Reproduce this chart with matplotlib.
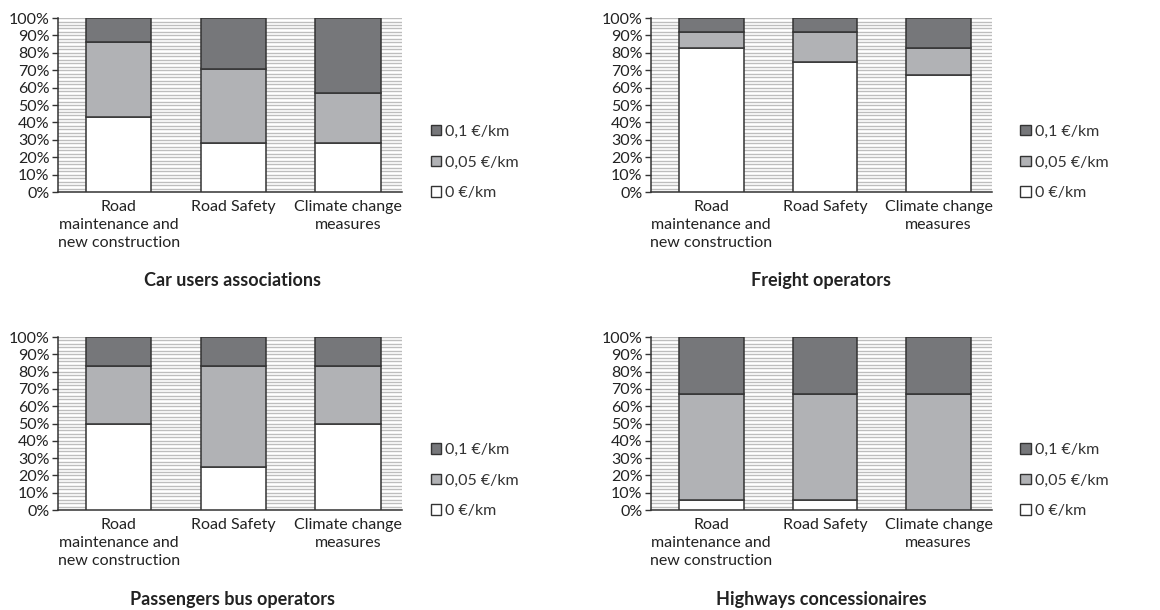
import numpy as np
import matplotlib
matplotlib.use("Agg")
import matplotlib.pyplot as plt
from matplotlib.patches import Patch

plt.rcParams['font.family'] = ['Lato', 'DejaVu Sans']

categories = ['Road\nmaintenance and\nnew construction', 'Road Safety', 'Climate change\nmeasures']
series = ['0 €/km', '0,05 €/km', '0,1 €/km']
colors = ['#ffffff', '#b1b2b5', '#76777a']

# shares (%) per group: [0 €/km, 0,05 €/km, 0,1 €/km] for each category
car_users = [[43, 43, 14], [28, 43, 29], [28, 29, 43]]
freight = [[83, 9, 8], [75, 17, 8], [67, 16, 17]]
bus = [[50, 33, 17], [25, 58, 17], [50, 33, 17]]
highways = [[6, 61, 33], [6, 61, 33], [0, 67, 33]]

titles = ['Car users associations', 'Freight operators',
          'Passengers bus operators', 'Highways concessionaires']
groups = [car_users, freight, bus, highways]

fig = plt.figure(figsize=(11.6, 6.1), dpi=100)

positions = [
    [0.050, 0.6852, 0.2966, 0.2852],
    [0.5612, 0.6852, 0.2940, 0.2852],
    [0.050, 0.1639, 0.2966, 0.2836],
    [0.5612, 0.1639, 0.2940, 0.2836],
]
title_pos = [(0.200, 1 - 280 / 610), (0.708, 1 - 280 / 610),
             (0.200, 1 - 600 / 610), (0.708, 1 - 600 / 610)]

fs = 11.5

for pos, data, title, tp in zip(positions, groups, titles, title_pos):
    ax = fig.add_axes(pos)
    data = np.array(data, dtype=float)
    x = np.arange(len(categories))
    bottom = np.zeros(len(categories))
    for j in range(len(series)):
        ax.bar(x, data[:, j], 0.57, bottom=bottom, color=colors[j],
               edgecolor='#333333', linewidth=1.1, zorder=3, label=series[j])
        bottom += data[:, j]

    ax.set_xlim(-0.53, 2.47)
    ax.set_ylim(0, 100)
    ax.set_yticks(np.arange(0, 101, 10))
    ax.set_yticklabels([f'{v}%' for v in range(0, 101, 10)], fontsize=fs, color='#222222')
    ax.set_yticks(np.arange(0, 101, 2), minor=True)
    ax.grid(axis='y', which='both', color='#bdbdbd', linewidth=1.0, zorder=0)
    ax.set_axisbelow(True)
    ax.tick_params(axis='y', which='major', direction='out', length=4, width=1, color='#333333', pad=2)
    ax.tick_params(axis='y', which='minor', length=0)
    ax.set_xticks(x)
    ax.set_xticklabels(categories, fontsize=fs, color='#222222', linespacing=1.35)
    ax.tick_params(axis='x', length=0, pad=6)
    for s in ['top', 'right']:
        ax.spines[s].set_visible(False)
    for s in ['left', 'bottom']:
        ax.spines[s].set_color('#333333')
        ax.spines[s].set_linewidth(1.1)

    handles = [Patch(facecolor=colors[j], edgecolor='#333333', linewidth=1.0)
               for j in range(len(series))][::-1]
    ax.legend(handles, series[::-1], loc='center left', bbox_to_anchor=(1.06, 0.17),
              frameon=False, fontsize=fs, handlelength=0.65, handleheight=0.65,
              handletextpad=0.25, labelspacing=1.05, borderpad=0,
              labelcolor='#333333')

    fig.text(tp[0], tp[1], title, ha='center', va='center', fontsize=13,
             fontweight='bold', color='#222222')

fig.savefig('out.png', dpi=100)
